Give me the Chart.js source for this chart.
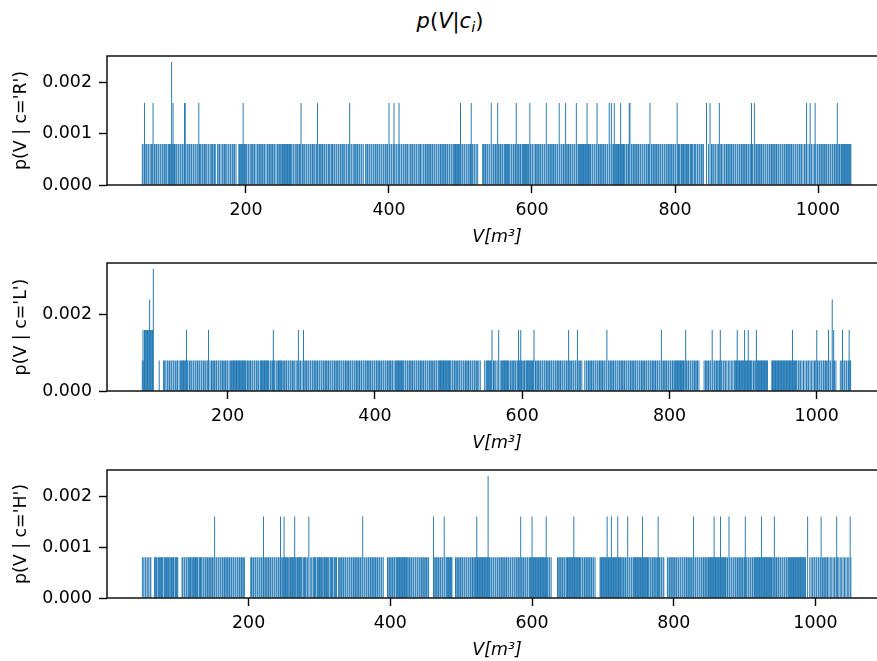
<!DOCTYPE html>
<html>
<head>
<meta charset="utf-8">
<script src="https://cdn.jsdelivr.net/npm/chart.js@4.4.1/dist/chart.umd.min.js"></script>
<style>
    html, body { margin: 0; padding: 0; background: #fff; overflow: hidden; }
    body { width: 877px; height: 661px; position: relative; font-family: 'DejaVu Sans', sans-serif; }
    canvas { position: absolute; left: 0; }
    #titulo { position: absolute; top: 6px; left: 380px; width: 140px; text-align: center;
              font-size: 21px; line-height: 30px; color: #000; white-space: nowrap; }
    #titulo sub { font-size: 70%; vertical-align: -0.3em; line-height: 0; }
</style>
</head>
<body>
<div id="titulo"><i>p</i>(<i>V</i>|<i>c<sub>i</sub></i>)</div>
<canvas id="chart-r" width="900" height="206" style="top:46px"></canvas>
<canvas id="chart-l" width="900" height="205" style="top:253px"></canvas>
<canvas id="chart-h" width="900" height="205" style="top:460px"></canvas>
<script>
// altura de una barra con un solo valor (densidad)
const DENSIDAD_UNO = 0.0008;
const AZUL = '#1f77b4';

// --- c = 'R' ---
const rangoR = [55, 1046];
const huecosR = [57,60,62,65,67,71,73,76,79,82,85,88,90,102,104,107,110,113,117,120,122,125,128,131,133,138,141,144,146,149,151,155,158,159,161,164,166,169,172,174,177,180,182,185,187,188,189,202,205,207,210,213,215,218,221,224,227,229,232,235,238,241,243,246,249,265,268,270,273,278,281,283,286,289,292,295,297,301,305,308,311,314,318,322,325,328,331,334,337,339,342,346,349,351,354,357,360,363,365,
    366,368,371,374,377,380,383,385,388,391,394,396,399,402,405,409,412,416,419,422,424,427,429,431,434,437,440,442,445,447,450,453,456,459,462,465,468,471,474,477,480,483,486,489,501,504,507,510,512,518,521,523,525,526,527,528,529,530,533,536,539,542,545,548,551,554,557,560,570,573,576,579,582,585,596,599,602,604,607,610,613,616,619,622,625,628,631,634,637,640,643,646,649,652,655,658,661,664,683,686,689,692,695,698,701,704,707,710,713,
    731,734,738,741,744,747,750,753,756,759,762,766,769,772,775,778,781,784,787,790,793,796,799,802,808,814,820,826,830,833,836,839,841,842,843,845,846,848,850,853,855,858,860,863,866,868,871,874,877,880,883,886,889,892,895,898,901,904,910,913,916,919,922,925,928,931,934,937,940,943,946,949,952,955,958,961,964,967,970,973,976,978,980,982,985,987,990,992,994,998,1001,1004,1007,1010,1013,1016,1019,1022,1025,1028,1031];
const doblesR = [58,70,98,114,115,134,196,277,300,345,400,407,414,500,515,543,552,578,597,620,638,647,662,677,691,708,711,715,724,736,737,765,803,844,849,862,907,911,984,989,996,1027];
const triplesR = [96];

// --- c = 'L' ---
const rangoL = [84, 1046];
const huecosL = [100,101,102,103,104,105,106,108,109,110,111,112,
    115,117,120,122,125,128,130,133,135,147,150,152,155,158,160,163,166,169,171,175,177,180,183,186,189,192,195,198,201,203,226,229,232,235,238,241,243,257,259,265,267,275,278,281,284,287,290,292,294,297,300,302,305,308,311,314,317,320,323,326,329,332,335,338,341,344,347,350,353,356,359,362,365,368,371,374,377,380,383,386,
    389,392,395,398,401,404,407,410,413,416,419,422,425,427,440,443,446,449,452,455,458,461,464,467,470,473,476,479,482,485,504,507,510,513,516,519,522,525,528,531,534,537,540,542,544,545,546,547,548,550,560,563,565,567,569,571,583,586,589,592,601,604,617,620,623,626,629,632,635,638,641,644,647,650,653,656,659,662,665,668,671,674,677,680,682,683,684,686,689,692,695,698,701,704,707,710,713,716,719,722,725,728,731,
    734,737,740,743,746,749,752,755,758,761,764,767,770,773,776,779,782,785,788,791,794,797,800,803,806,821,824,827,830,833,836,839,841,842,843,844,845,846,848,851,854,857,860,863,866,872,875,877,879,881,883,885,887,913,916,934,935,936,937,938,974,977,979,981,983,985,987,990,992,994,996,999,1002,1005,1008,1011,1014,1017,1020,1025,1027,1028,1029,1030,1031,1033,1036,1039,1042];
const doblesL = [85,87,88,89,90,91,92,93,95,96,97,98,144,174,262,296,303,559,568,595,598,616,663,675,715,789,822,858,869,892,902,907,918,967,1000,1016,1023,1035,1044];
const triplesL = [94, 1021];
const cuadruplesL = [99];

// --- c = 'H' ---
const rangoH = [50, 1050];
const huecosH = [51,53,56,58,60,63,64,65,66,71,80,89,95,101,102,103,104,105,108,111,114,120,129,135,138,141,144,147,150,153,156,159,162,165,168,171,174,177,180,183,186,189,192,195,196,197,198,199,200,201,202,205,208,211,214,217,220,223,226,229,232,235,238,241,244,247,257,267,276,282,284,286,288,290,296,305,314,320,325,326,329,332,335,338,341,344,347,350,353,356,359,
    362,365,368,371,374,377,380,383,386,389,391,392,393,394,395,398,401,404,407,425,428,431,434,437,440,443,446,449,452,455,456,457,458,459,460,463,466,469,472,475,478,488,489,490,491,494,497,500,503,506,509,512,515,518,541,544,547,550,553,556,559,562,565,568,571,574,577,580,583,586,589,592,595,623,626,628,629,630,631,632,633,634,635,638,641,644,647,670,673,676,679,682,685,688,690,691,692,693,694,695,
    727,730,733,736,739,742,766,769,772,775,781,784,787,788,789,790,793,796,799,802,805,808,811,814,817,820,823,826,829,832,835,838,841,844,847,874,877,880,883,886,889,892,895,898,904,907,910,913,940,943,946,949,952,955,958,961,987,988,990,991,993,995,997,1000,1003,1006,1009,1012,1015,1018,1020,1022,1024,1026,1028,1032,1034,1036,1038,1040,1042,1044,1046,1048];
const doblesH = [152,221,245,250,265,285,361,461,476,522,584,600,620,659,706,712,721,735,756,778,828,857,866,878,901,924,942,989,1008,1030,1049];
const triplesH = [538];

// arma las barras (una por unidad de V) a partir de lo leído
function histograma(rango, huecos, dobles, triples, cuadruples = []) {
    const puntos = [];
    for (let v = rango[0]; v <= rango[1]; v++) {
        let n = 1;
        if (huecos.includes(v)) n = 0;
        if (dobles.includes(v)) n = 2;
        if (triples.includes(v)) n = 3;
        if (cuadruples.includes(v)) n = 4;
        puntos.push({ x: v, y: n * DENSIDAD_UNO });
    }
    return puntos;
}

// marco de los cuatro lados, como los spines
const marco = {
    id: 'marco',
    afterDraw(chart) {
        const { ctx, chartArea: a } = chart;
        ctx.save();
        ctx.strokeStyle = '#000';
        ctx.lineWidth = 1.4;
        ctx.strokeRect(a.left, a.top, a.right - a.left, a.bottom - a.top);
        ctx.restore();
    }
};

Chart.defaults.font.family = "'DejaVu Sans', sans-serif";
Chart.defaults.color = '#000';

const FUENTE = 17.4;
const ticksComunes = { tickLength: 8, tickWidth: 1.4, tickColor: '#000' };

function crearGrafico(id, datos, tituloY, xMin, xMax, yMax, yPaso) {
    return new Chart(document.getElementById(id), {
        type: 'bar',
        data: {
            datasets: [{
                data: datos,
                backgroundColor: AZUL,
                borderWidth: 0,
                barPercentage: 1,
                categoryPercentage: 1,
                inflateAmount: 0.12
            }]
        },
        options: {
            responsive: false,
            animation: false,
            events: [],
            layout: { padding: { left: 0, right: 13, top: 10, bottom: 0 } },
            plugins: { legend: { display: false }, tooltip: { enabled: false } },
            scales: {
                x: {
                    type: 'linear',
                    min: xMin,
                    max: xMax,
                    offset: false,
                    border: { display: false },
                    grid: { display: true, offset: false, drawOnChartArea: false, drawTicks: true, ...ticksComunes },
                    ticks: { stepSize: 200, includeBounds: false, padding: 7, maxRotation: 0, font: { size: FUENTE },
                             callback: v => String(v) },
                    title: { display: true, text: 'V[m³]', font: { size: FUENTE, style: 'italic' }, padding: { top: 0, bottom: 4 } },
                    afterFit: s => { s.height = 67; s.paddingLeft = 0; s.paddingRight = 0; }
                },
                y: {
                    min: 0,
                    max: yMax,
                    border: { display: false },
                    grid: { display: true, drawOnChartArea: false, drawTicks: true, ...ticksComunes },
                    ticks: { stepSize: yPaso, includeBounds: false, padding: 7, font: { size: FUENTE },
                             callback: v => v.toFixed(3) },
                    title: { display: true, text: tituloY, font: { size: FUENTE }, padding: { top: 11, bottom: 0 } },
                    afterFit: s => { s.width = 107; s.paddingTop = 0; s.paddingBottom = 0; }
                }
            }
        },
        plugins: [marco]
    });
}

crearGrafico('chart-r', histograma(rangoR, huecosR, doblesR, triplesR),
    "p(V | c='R')", 5.6, 1096.5, 0.00252, 0.001);
crearGrafico('chart-l', histograma(rangoL, huecosL, doblesL, triplesL, cuadruplesL),
    "p(V | c='L')", 36.1, 1095.4, 0.00336, 0.002);
crearGrafico('chart-h', histograma(rangoH, huecosH, doblesH, triplesH),
    "p(V | c='H')", 0.1, 1101, 0.00252, 0.001);
</script>
</body>
</html>
